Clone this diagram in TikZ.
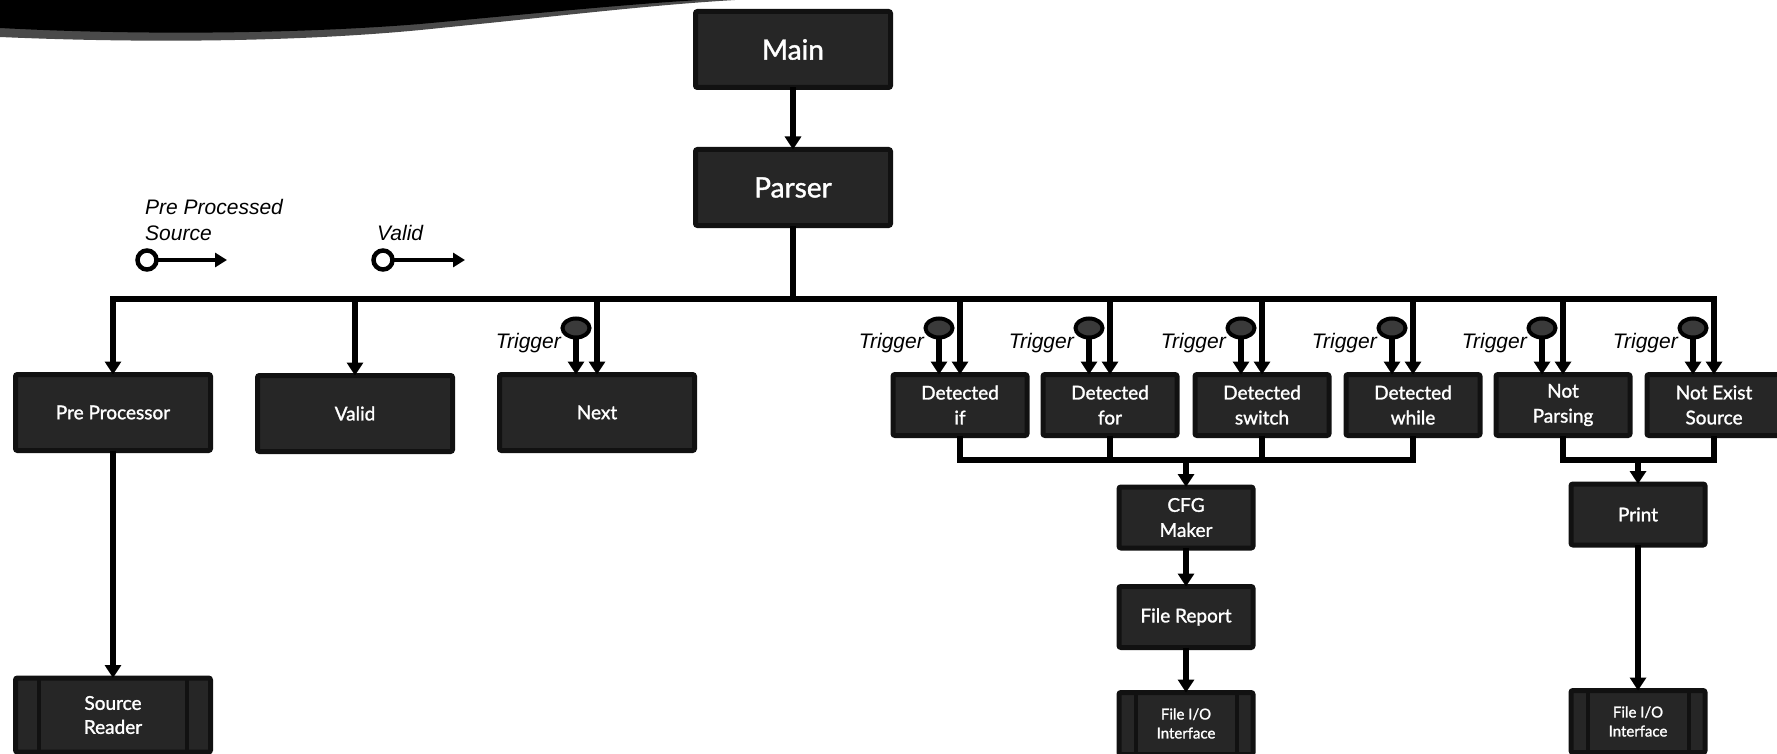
\documentclass[tikz,border=0pt]{standalone}
\usepackage{fontspec}
\setmainfont{Lato}
\newfontfamily\boxfont[FakeBold=1.4]{Lato}
\newfontfamily\arialf{Liberation Sans}
\usetikzlibrary{arrows.meta,shapes.geometric}
\definecolor{boxfill}{HTML}{262626}
\definecolor{boxedge}{HTML}{111111}
\definecolor{swgrey}{HTML}{4A4A4A}
\definecolor{trigfill}{HTML}{3A3A3A}
\begin{document}
\begin{tikzpicture}[x=1pt,y=-1pt,
 box/.style={draw=boxedge, fill=boxfill, line width=5pt, rounded corners=2pt, text=white, align=center, inner sep=0pt, outer sep=0pt, font=\boxfont\fontsize{19}{25}\selectfont},
 bigbox/.style={box, font=\boxfont\fontsize{28}{30}\selectfont, minimum width=195pt, minimum height=76pt},
 wide/.style={box, minimum width=195pt, minimum height=76pt},
 small/.style={box, minimum width=134pt, minimum height=61pt},
 iofont/.style={font=\boxfont\fontsize{15}{19}\selectfont},
 conn/.style={line width=5.5pt, draw=black},
 arr/.style={conn, -{Triangle[length=13pt,width=16pt]}},
 legarr/.style={line width=4.5pt, draw=black, -{Triangle[length=12pt,width=14pt]}},
 trig/.style={ellipse, draw=black, fill=trigfill, line width=4pt, minimum width=27pt, minimum height=19pt, inner sep=0pt, outer sep=0pt},
 triglabel/.style={font=\arialf\itshape\fontsize{21}{25}\selectfont, inner sep=0pt, anchor=east},
 legtext/.style={font=\arialf\itshape\fontsize{21}{26}\selectfont, inner sep=0pt, anchor=west, align=left},
 legcirc/.style={circle, draw=black, fill=white, line width=4.5pt, minimum size=19pt, inner sep=0pt, outer sep=0pt},
 sideline/.style={draw=boxedge, line width=4pt},
]
\useasboundingbox (0,0) rectangle (1777,754);
\clip (0,0) rectangle (1777,754);
% top-left swoosh
\fill[swgrey] (0,0) -- (0,37) .. controls (160,44) and (320,41) .. (440,28) .. controls (560,16) and (650,5) .. (735,0) -- cycle;
\fill[black] (0,0) -- (0,28) .. controls (150,36) and (310,33) .. (420,24) .. controls (540,13) and (630,4) .. (700,0) -- cycle;

% helper levels
\coordinate (busY) at (0,299);
\coordinate (trigY) at (0,328);
\coordinate (labY) at (0,343);
\coordinate (joinY) at (0,460);

% nodes
\node[bigbox] (main) at (793,49.5) {Main};
\node[bigbox] (parser) at (793,187.5) {Parser};
\node[wide] (pre) at (113,412.5) {Pre Processor};
\node[wide] (valid) at (355,413.5) {Valid};
\node[wide] (next) at (597,412.5) {Next};
\node[small] (dif) at (960,405) {Detected\\if};
\node[small] (dfor) at (1110,405) {Detected\\for};
\node[small] (dsw) at (1262,405) {Detected\\switch};
\node[small] (dwh) at (1413,405) {Detected\\while};
\node[small] (np) at (1563,405) {Not\\Parsing};
\node[small] (ne) at (1714,405) {Not Exist\\Source};
\node[small] (cfg) at (1186,517.5) {CFG\\Maker};
\node[small] (frep) at (1186,617) {File Report};
\node[small, iofont, minimum height=62pt] (fio1) at (1186,723.5) {File I/O\\Interface};
\node[small] (print) at (1638,514.5) {Print};
\node[small, iofont, minimum height=62pt] (fio2) at (1638,721.5) {File I/O\\Interface};
\node[wide, minimum height=74pt, font=\boxfont\fontsize{19}{24}\selectfont] (src) at (113,715) {Source\\Reader};

% side lines of predefined-process boxes
\draw[sideline] ([xshift=23.5pt]src.north west) -- ([xshift=23.5pt]src.south west);
\draw[sideline] ([xshift=-23.5pt]src.north east) -- ([xshift=-23.5pt]src.south east);
\draw[sideline] ([xshift=16.5pt]fio1.north west) -- ([xshift=16.5pt]fio1.south west);
\draw[sideline] ([xshift=-16.5pt]fio1.north east) -- ([xshift=-16.5pt]fio1.south east);
\draw[sideline] ([xshift=16.5pt]fio2.north west) -- ([xshift=16.5pt]fio2.south west);
\draw[sideline] ([xshift=-16.5pt]fio2.north east) -- ([xshift=-16.5pt]fio2.south east);

% main flow
\draw[arr] (main.south) -- (parser.north);
\draw[conn] (parser.south) -- (parser.south |- busY);
\draw[conn, line cap=rect] (pre.north |- busY) -- (ne.north |- busY);
\foreach \n in {pre,valid,next,dif,dfor,dsw,dwh,np,ne}
  \draw[arr] (\n.north |- busY) -- (\n.north);

% triggers
\foreach \n in {next,dif,dfor,dsw,dwh,np,ne}{
  \node[trig] (t\n) at ([xshift=-21pt]\n.north |- trigY) {};
  \draw[arr] (t\n.south) -- (t\n.south |- \n.north);
  \node[triglabel] (l\n) at ([xshift=-15pt]t\n.center |- labY) {Trigger};
}

% join to CFG maker
\draw[conn, line join=miter] (dif.south) -- (dif.south |- joinY) -- (dwh.south |- joinY) -- (dwh.south);
\draw[conn] (dfor.south) -- (dfor.south |- joinY);
\draw[conn] (dsw.south) -- (dsw.south |- joinY);
\draw[arr] (cfg.north |- joinY) -- (cfg.north);
\draw[arr] (cfg.south) -- (frep.north);
\draw[arr] (frep.south) -- (fio1.north);

% join to print
\draw[conn, line join=miter] (np.south) -- (np.south |- joinY) -- (ne.south |- joinY) -- (ne.south);
\draw[arr] (print.north |- joinY) -- (print.north);
\draw[arr] (print.south) -- (fio2.north);

% pre processor to source reader
\draw[arr] (pre.south) -- (src.north);

% legend
\node[legcirc] (lg1) at (147,260) {};
\coordinate (lg1e) at (227,260);
\draw[legarr] (lg1.east) -- (lg1e);
\node[legtext] (lt1) at (145,220) {Pre Processed\\Source};
\node[legcirc] (lg2) at (383,260) {};
\coordinate (lg2e) at (465,260);
\draw[legarr] (lg2.east) -- (lg2e);
\node[legtext] (lt2) at (377,233) {Valid};
\end{tikzpicture}
\end{document}
